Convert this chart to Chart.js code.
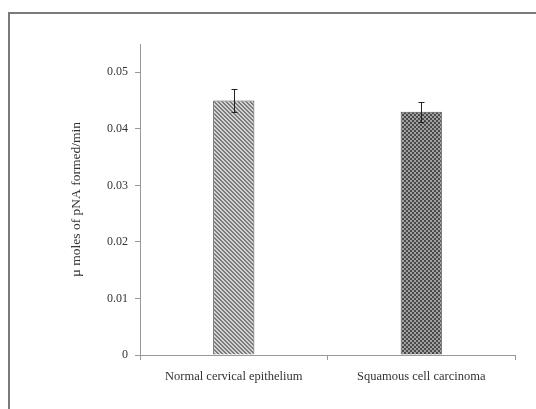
<!DOCTYPE html>
<html>
<head>
<meta charset="utf-8">
<script src="https://cdn.jsdelivr.net/npm/chart.js@4.4.0/dist/chart.umd.min.js"></script>
<style>
  html, body { margin: 0; padding: 0; background: #fff; }
  #wrap { width: 536px; height: 409px; position: relative; }
</style>
</head>
<body>
<div id="wrap"><canvas id="c" width="536" height="409"></canvas></div>
<script>
const categories = ["Normal cervical epithelium", "Squamous cell carcinoma"];
const meanValues = [0.045, 0.043];
const errorValues = [0.0021, 0.0018];
const yTickValues = [0, 0.01, 0.02, 0.03, 0.04, 0.05];
const yTitle = "\u00b5 moles of pNA formed/min";

function makeHatch() {
  const c = document.createElement('canvas');
  c.width = 4; c.height = 4;
  const g = c.getContext('2d');
  g.fillStyle = '#d4d4d4';
  g.fillRect(0, 0, 4, 4);
  g.fillStyle = '#7a7a7a';
  for (let i = 0; i < 4; i++) {
    g.fillRect(i, i, 1, 1);
    g.fillRect((i + 1) % 4, i, 1, 1);
  }
  return g.createPattern(c, 'repeat');
}
function makeChecker() {
  const c = document.createElement('canvas');
  c.width = 4; c.height = 4;
  const g = c.getContext('2d');
  g.fillStyle = '#a0a0a0';
  g.fillRect(0, 0, 4, 4);
  g.fillStyle = '#4a4a4a';
  g.fillRect(0, 0, 2, 2);
  g.fillRect(2, 2, 2, 2);
  return g.createPattern(c, 'repeat');
}

const frame = {
  id: 'frame',
  beforeDraw(chart) {
    const ctx = chart.ctx;
    ctx.save();
    ctx.fillStyle = '#fff';
    ctx.fillRect(0, 0, chart.width, chart.height);
    ctx.strokeStyle = '#7a7a7a';
    ctx.lineWidth = 2;
    ctx.strokeRect(9, 13, 540, 410);
    ctx.restore();
  }
};

const errorBars = {
  id: 'errorBars',
  afterDatasetsDraw(chart) {
    const ctx = chart.ctx;
    const y = chart.scales.y;
    const meta = chart.getDatasetMeta(0);
    ctx.save();
    ctx.strokeStyle = '#222';
    ctx.lineWidth = 1;
    meta.data.forEach((bar, i) => {
      const x = Math.round(bar.x) + 0.5;
      const yHi = Math.round(y.getPixelForValue(meanValues[i] + errorValues[i])) + 0.5;
      const yLo = Math.round(y.getPixelForValue(meanValues[i] - errorValues[i])) + 0.5;
      ctx.beginPath();
      ctx.moveTo(x, yHi); ctx.lineTo(x, yLo);
      ctx.moveTo(x - 3, yHi); ctx.lineTo(x + 3, yHi);
      ctx.moveTo(x - 3, yLo); ctx.lineTo(x + 3, yLo);
      ctx.stroke();
    });
    ctx.restore();
  }
};

const fam = "'Liberation Serif', 'Times New Roman', serif";

new Chart(document.getElementById('c'), {
  type: 'bar',
  data: {
    labels: categories,
    datasets: [{
      data: meanValues,
      backgroundColor: [makeHatch(), makeChecker()],
      borderColor: '#555',
      borderWidth: 1,
      barPercentage: 0.22,
      categoryPercentage: 1.0
    }]
  },
  options: {
    responsive: false,
    animation: false,
    devicePixelRatio: 1,
    layout: { padding: { left: 68, top: 44, right: 21, bottom: 0 } },
    plugins: { legend: { display: false }, tooltip: { enabled: false } },
    scales: {
      x: {
        grid: { display: true, drawOnChartArea: false, offset: true, color: '#999', tickLength: 5 },
        border: { color: '#999' },
        ticks: { font: { family: fam, size: 12.5 }, color: '#333', padding: 9, maxRotation: 0 },
        afterFit(s) { s.height = 54; }
      },
      y: {
        min: 0, max: 0.055,
        afterBuildTicks(s) { s.ticks = yTickValues.map(v => ({ value: v })); },
        grid: { display: true, drawOnChartArea: false, color: '#999', tickLength: 5 },
        border: { color: '#999' },
        ticks: { font: { family: fam, size: 12 }, color: '#333', padding: 7, callback: v => v === 0 ? '0' : v.toFixed(2) },
        title: { display: true, text: yTitle, font: { family: fam, size: 13.5 }, color: '#333', padding: 0 },
        afterFit(s) { s.width = 72; }
      }
    }
  },
  plugins: [frame, errorBars]
});
</script>
</body>
</html>
